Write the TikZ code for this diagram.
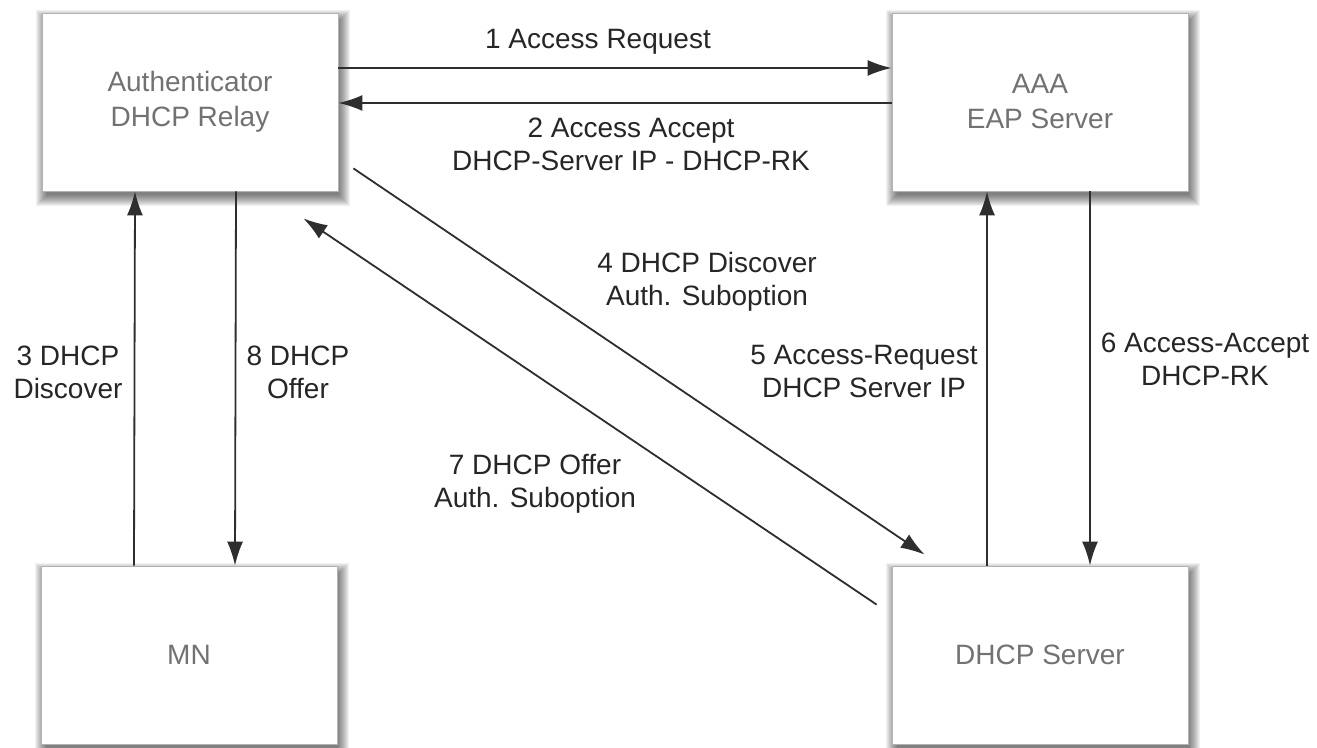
\documentclass[tikz,border=0pt]{standalone}
\usepackage{fontspec}
\setmainfont{Liberation Sans}
\usepackage{tikz}
\usetikzlibrary{arrows.meta,backgrounds}
\definecolor{boxtext}{HTML}{727272}
\definecolor{msgtext}{HTML}{262626}
\definecolor{msgline}{HTML}{2E2E2E}
\tikzstyle{entitybox} = [draw=gray!60, fill=white, line width=0.8pt,
    rectangle, minimum width=296pt, minimum height=178pt, align=center,
    text=boxtext, font=\fontsize{28}{35}\selectfont]
\tikzstyle{msglabel} = [text=msgtext, align=center, font=\fontsize{28}{33}\selectfont]
\tikzstyle{msg} = [draw=msgline, line width=1.8pt, -{Latex[length=24pt,width=16pt]}]

\begin{document}
\begin{tikzpicture}[x=1pt,y=1pt]
                \useasboundingbox (0,0) rectangle (1317,747);
                \node [entitybox] (auth) at (190,645) {Authenticator\\DHCP Relay};
                \node [entitybox] (aaa) at (1040,645) {AAA\\EAP Server};
                \node [entitybox] (mn) at (189,92) {MN};
                \node [entitybox] (dhcp) at (1040,92) {DHCP Server};
                % soft shadows behind the boxes
                \begin{scope}[on background layer]
                    \foreach \b in {auth,aaa,mn,dhcp}
                        \foreach \r in {9,8,...,-2}
                            \fill [black, opacity=0.055]
                                ([shift={(3-\r,-6-\r)}]\b.south west) rectangle ([shift={(3+\r,-6+\r)}]\b.north east);
                \end{scope}
                % upper pair
                \draw [msg] ([yshift=34pt]auth.east) -- ([yshift=34pt]aaa.west);
                \draw [msg] ([yshift=-1pt]aaa.west) -- ([yshift=-1pt]auth.east);
                % MN side
                \draw [msg] ([xshift=-55pt]mn.north) -- ([xshift=-55pt]auth.south);
                \draw [msg] ([xshift=46pt]auth.south) -- ([xshift=46pt]mn.north);
                % AAA side
                \draw [msg] ([xshift=-53pt]dhcp.north) -- ([xshift=-53pt]aaa.south);
                \draw [msg] ([xshift=50pt]aaa.south) -- ([xshift=50pt]dhcp.north);
                % diagonals
                \coordinate (disc start) at ([shift={(15,23)}]auth.south east);
                \coordinate (disc end) at ([shift={(33,11)}]dhcp.north west);
                \coordinate (offer start) at ([shift={(-15,-39)}]dhcp.north west);
                \coordinate (offer end) at ([shift={(-35,-27)}]auth.south east);
                \draw [msg] (disc start) -- (disc end);
                \draw [msg] (offer start) -- (offer end);
                % labels
                \node [msglabel] (l1) at (598,705) {1 Access Request};
                \node [msglabel] (l2) at (631,603) {2 Access Accept\\DHCP-Server IP - DHCP-RK};
                \node [msglabel] (l3) at (68,375) {3 DHCP\\Discover};
                \node [msglabel] (l8) at (298,375) {8 DHCP\\Offer};
                \node [msglabel] (l4) at (707,465) {4 DHCP Discover\\Auth. Suboption};
                \node [msglabel] (l5) at (864,375) {5 Access-Request\\DHCP Server IP};
                \node [msglabel] (l6) at (1205,388) {6 Access-Accept\\DHCP-RK};
                \node [msglabel] (l7) at (535,263) {7 DHCP Offer\\Auth. Suboption};
            \end{tikzpicture}
\end{document}
